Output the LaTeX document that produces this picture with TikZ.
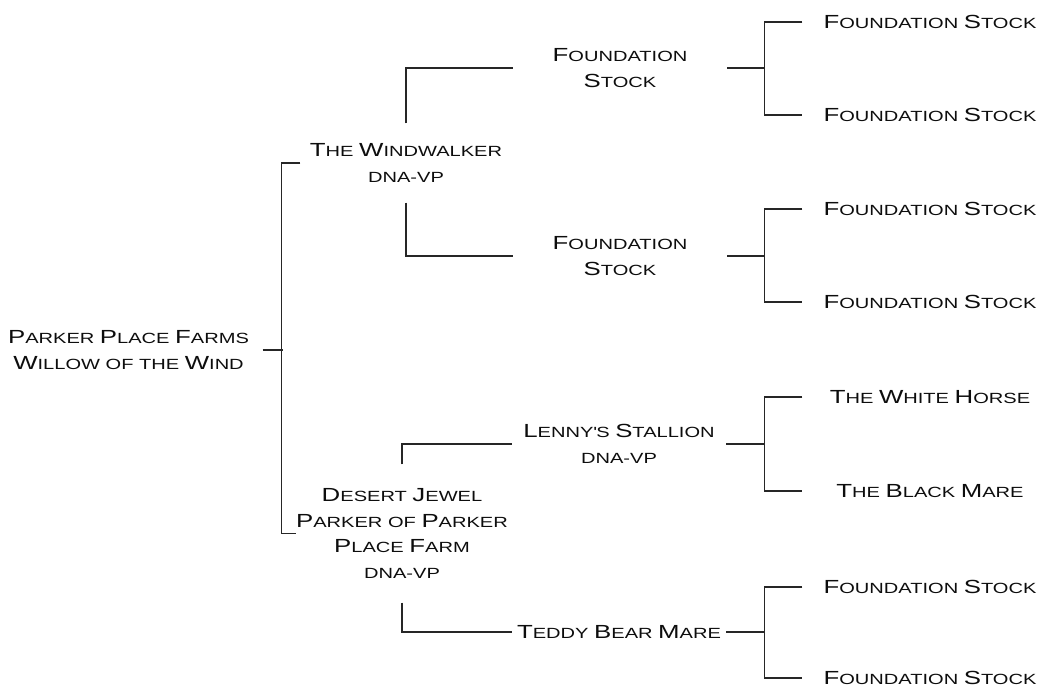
\documentclass[tikz,border=0pt]{standalone}
\usepackage{fontspec}
\setmainfont{Liberation Sans}[FakeStretch=1.36]
\newcommand\Lg[1]{{\fontsize{10.8}{14.5}\selectfont #1}}

\begin{document}
\begin{tikzpicture}[x=0.02cm, y=-0.02cm, line width=0.7pt, draw=black!85,
  horse/.style={align=center, inner sep=0pt, text=black!95, font=\fontsize{8.4}{14.5}\selectfont},
  sire/.style={horse, minimum width=4.26cm},
  leaf/.style={horse, minimum width=5.08cm}]
\useasboundingbox (0,0) rectangle (1043,688);
% the mare and her parents
\node[horse, minimum width=5.34cm] (root) at (128.5,350) {\Lg{P}ARKER \Lg{P}LACE \Lg{F}ARMS\\\Lg{W}ILLOW OF THE \Lg{W}IND};
\node[horse, minimum width=4.2cm, minimum height=1.56cm] (ww) at (406,163) {\Lg{T}HE \Lg{W}INDWALKER\\DNA-VP};
\node[horse, minimum width=4.04cm, minimum height=2.74cm] (dj) at (402,533.5) {\Lg{D}ESERT \Lg{J}EWEL\\\Lg{P}ARKER OF \Lg{P}ARKER\\\Lg{P}LACE \Lg{F}ARM\\DNA-VP};
% grandparents
\node[sire] (fs1) at (620,68) {\Lg{F}OUNDATION\\\Lg{S}TOCK};
\node[sire] (fs2) at (620,256) {\Lg{F}OUNDATION\\\Lg{S}TOCK};
\node[sire] (ls) at (619,444) {\Lg{L}ENNY\textquotesingle S \Lg{S}TALLION\\DNA-VP};
\node[sire] (tb) at (619,632) {\Lg{T}EDDY \Lg{B}EAR \Lg{M}ARE};
% great-grandparents
\node[leaf] (l1) at (930,22) {\Lg{F}OUNDATION \Lg{S}TOCK};
\node[leaf] (l2) at (930,115) {\Lg{F}OUNDATION \Lg{S}TOCK};
\node[leaf] (l3) at (930,209) {\Lg{F}OUNDATION \Lg{S}TOCK};
\node[leaf] (l4) at (930,302) {\Lg{F}OUNDATION \Lg{S}TOCK};
\node[leaf] (l5) at (930,397) {\Lg{T}HE \Lg{W}HITE \Lg{H}ORSE};
\node[leaf] (l6) at (930,491) {\Lg{T}HE \Lg{B}LACK \Lg{M}ARE};
\node[leaf] (l7) at (930,587) {\Lg{F}OUNDATION \Lg{S}TOCK};
\node[leaf] (l8) at (930,678) {\Lg{F}OUNDATION \Lg{S}TOCK};

\draw (ww.west) -- ++(-19,0) |- (dj.west);
\draw (root.east) -- ++(20,0);
\draw (ww.north) |- (fs1.west);
\draw (ww.south) |- (fs2.west);
\draw (dj.north) |- (ls.west);
\draw (dj.south) |- (tb.west);
\foreach \s/\a/\b in {fs1/l1/l2, fs2/l3/l4, ls/l5/l6, tb/l7/l8}{
  \draw (\a.west) -- ++(-38,0) |- (\b.west);
  \draw (\s.east) -- ++(38,0);
}
\end{tikzpicture}
\end{document}
